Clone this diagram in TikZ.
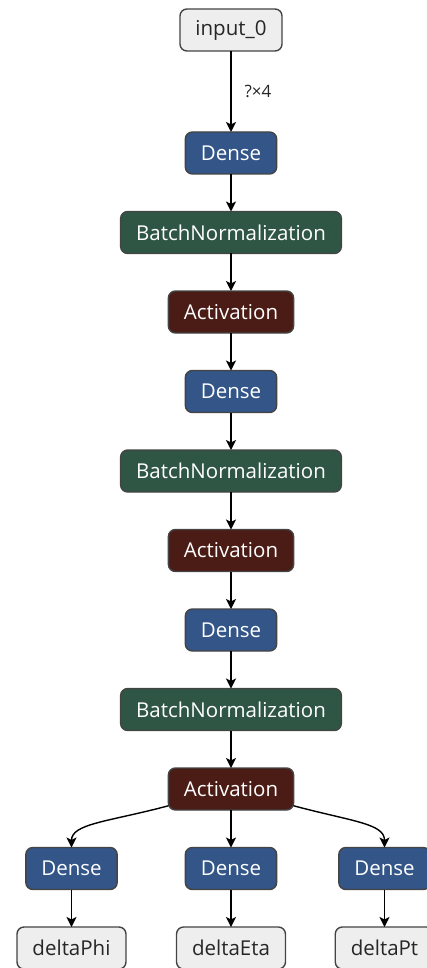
\documentclass[tikz,border=0pt]{standalone}
\usepackage{fontspec}
\setmainfont{Open Sans}
\usetikzlibrary{arrows.meta,positioning,calc}
\definecolor{denseblue}{RGB}{51,85,136}
\definecolor{normgreen}{RGB}{47,86,68}
\definecolor{actbrown}{RGB}{75,28,22}
\definecolor{iogray}{RGB}{238,238,238}
\definecolor{edgegray}{RGB}{68,68,68}
\tikzset{
  >={Stealth[length=10pt,width=10pt,inset=2.5pt]},
  flow/.style={->, line width=1.4pt, draw=black},
  layer/.style={rounded corners=7pt, draw=edgegray, line width=1.4pt, minimum height=42pt,
    inner xsep=15.5pt, inner ysep=0pt, outer sep=0pt, font=\fontsize{20.5}{24}\selectfont, text=white},
  dense/.style={layer, fill=denseblue},
  norm/.style={layer, fill=normgreen},
  act/.style={layer, fill=actbrown},
  io/.style={layer, fill=iogray, text=black!85},
  shapelabel/.style={font=\fontsize{17}{20}\selectfont, text=black!85}
}
\begin{document}
\begin{tikzpicture}[x=1pt, y=1pt, node distance=37.5pt]
  \useasboundingbox (-231,30) rectangle (195,-938);

  % Trunk of the model.
  \node[io] (input) at (0,0) {input\_0};
  \node[dense, below=81pt of input] (dense1) {Dense};
  \node[norm, below=of dense1] (norm1) {BatchNormalization};
  \node[act, below=of norm1] (act1) {Activation};
  \node[dense, below=of act1] (dense2) {Dense};
  \node[norm, below=of dense2] (norm2) {BatchNormalization};
  \node[act, below=of norm2] (act2) {Activation};
  \node[dense, below=of act2] (dense3) {Dense};
  \node[norm, below=of dense3] (norm3) {BatchNormalization};
  \node[act, below=of norm3] (act3) {Activation};

  % Three output heads.
  \node[dense, below=of act3, xshift=-159.5pt] (densephi) {Dense};
  \node[dense, below=of act3] (denseeta) {Dense};
  \node[dense, below=of act3, xshift=153.5pt] (densept) {Dense};
  \node[io, below=of densephi] (phi) {deltaPhi};
  \node[io, below=of denseeta] (eta) {deltaEta};
  \node[io, below=of densept] (pt) {deltaPt};

  % Straight connections.
  \draw[flow] (input) -- node[shapelabel, right=9.5pt] {?×4} (dense1);
  \draw[flow] (dense1) -- (norm1);
  \draw[flow] (norm1) -- (act1);
  \draw[flow] (act1) -- (dense2);
  \draw[flow] (dense2) -- (norm2);
  \draw[flow] (norm2) -- (act2);
  \draw[flow] (act2) -- (dense3);
  \draw[flow] (dense3) -- (norm3);
  \draw[flow] (norm3) -- (act3);
  \draw[flow] (act3) -- (denseeta);
  \draw[flow] (densephi) -- (phi);
  \draw[flow] (denseeta) -- (eta);
  \draw[flow] (densept) -- (pt);

  % Branches to the side heads.
  \draw[flow] (act3.195) .. controls +(-60,-16) and +(0,24) .. (densephi.north);
  \draw[flow] (act3.-15) .. controls +(60,-16) and +(0,24) .. (densept.north);
\end{tikzpicture}
\end{document}
